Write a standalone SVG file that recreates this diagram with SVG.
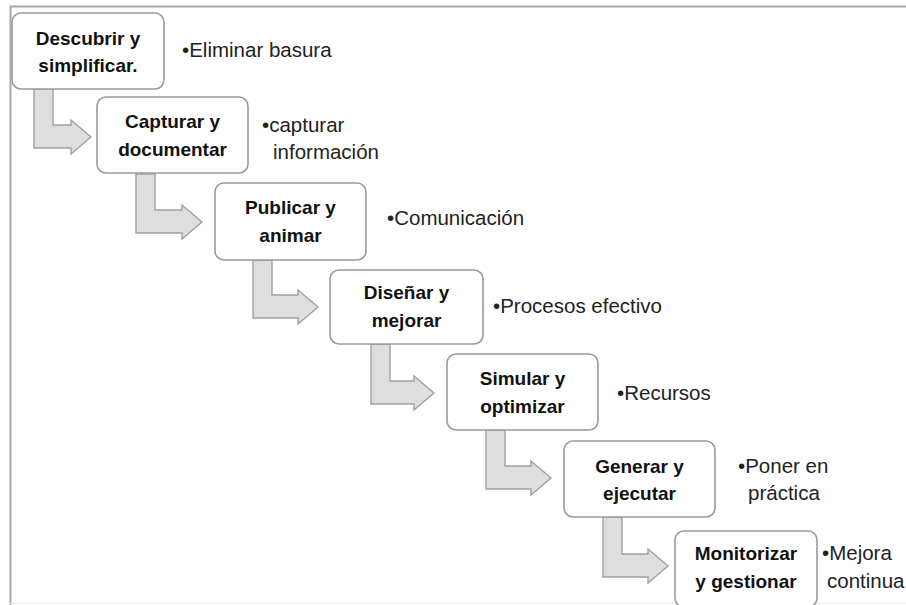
<svg xmlns="http://www.w3.org/2000/svg" width="906" height="605" viewBox="0 0 906 605">
  <style>
    .box { fill: #ffffff; stroke: #9a9a9a; stroke-width: 1.6; }
    .arrow { fill: #dedede; stroke: #a0a0a0; stroke-width: 1.4; stroke-linejoin: miter; }
    .title { font-family: "Liberation Sans", Arial, sans-serif; font-weight: bold; font-size: 19px; fill: #111111; text-anchor: middle; }
    .note { font-family: "Liberation Sans", Arial, sans-serif; font-size: 20.5px; fill: #222222; }
    .frame { stroke: #a8a8a8; stroke-width: 2; fill: none; }
  </style>

  <rect x="0" y="0" width="906" height="605" fill="#ffffff"/>

  <!-- outer frame -->
  <path class="frame" d="M10.5,605 V6.5 H906"/>
  <line x1="10" y1="603.5" x2="906" y2="603.5" stroke="#ececec" stroke-width="1"/>

  <!-- bent connectors between steps -->
  <g id="connectors">
    <polygon class="arrow" points="34,89 53,89 53,125 71,125 71,120 91,137 71,154 71,148 34,148"/>
    <polygon class="arrow" points="136,174 155,174 155,210 182,210 182,205 202,222 182,239 182,233 136,233"/>
    <polygon class="arrow" points="253,260 272,260 272,295 298,295 298,290 318,307 298,324 298,318 253,318"/>
    <polygon class="arrow" points="371,344 390,344 390,381 414,381 414,376 434,393 414,410 414,404 371,404"/>
    <polygon class="arrow" points="486,430 505,430 505,466 531,466 531,461 551,478 531,495 531,489 486,489"/>
    <polygon class="arrow" points="603,517 622,517 622,554 648,554 648,549 668,566 648,583 648,577 603,577"/>
  </g>

  <g id="step1">
    <rect class="box" x="12" y="13" width="152" height="76" rx="9"/>
    <text class="title" x="88" y="45">Descubrir y</text>
    <text class="title" x="88" y="72">simplificar.</text>
    <text class="note" x="182" y="57">•Eliminar basura</text>
  </g>

  <g id="step2">
    <rect class="box" x="97" y="97" width="151" height="76" rx="9"/>
    <text class="title" x="172.5" y="128">Capturar y</text>
    <text class="title" x="172.5" y="156">documentar</text>
    <text class="note" x="262" y="132">•capturar</text>
    <text class="note" x="273" y="159">información</text>
  </g>

  <g id="step3">
    <rect class="box" x="215" y="183" width="151" height="77" rx="9"/>
    <text class="title" x="290.5" y="214">Publicar y</text>
    <text class="title" x="290.5" y="242">animar</text>
    <text class="note" x="387" y="225">•Comunicación</text>
  </g>

  <g id="step4">
    <rect class="box" x="330" y="270" width="153" height="74" rx="9"/>
    <text class="title" x="406.5" y="299">Diseñar y</text>
    <text class="title" x="406.5" y="327">mejorar</text>
    <text class="note" x="493" y="313">•Procesos efectivo</text>
  </g>

  <g id="step5">
    <rect class="box" x="447" y="354" width="151" height="76" rx="9"/>
    <text class="title" x="522.5" y="385">Simular y</text>
    <text class="title" x="522.5" y="413">optimizar</text>
    <text class="note" x="617" y="400">•Recursos</text>
  </g>

  <g id="step6">
    <rect class="box" x="564" y="441" width="151" height="76" rx="9"/>
    <text class="title" x="639.5" y="473">Generar y</text>
    <text class="title" x="639.5" y="500">ejecutar</text>
    <text class="note" x="738" y="473">•Poner en</text>
    <text class="note" x="748" y="500">práctica</text>
  </g>

  <g id="step7">
    <rect class="box" x="675" y="531" width="142" height="76" rx="9"/>
    <text class="title" x="746" y="560">Monitorizar</text>
    <text class="title" x="746" y="588">y gestionar</text>
    <text class="note" x="822" y="560">•Mejora</text>
    <text class="note" x="827" y="588">continua</text>
  </g>
</svg>
